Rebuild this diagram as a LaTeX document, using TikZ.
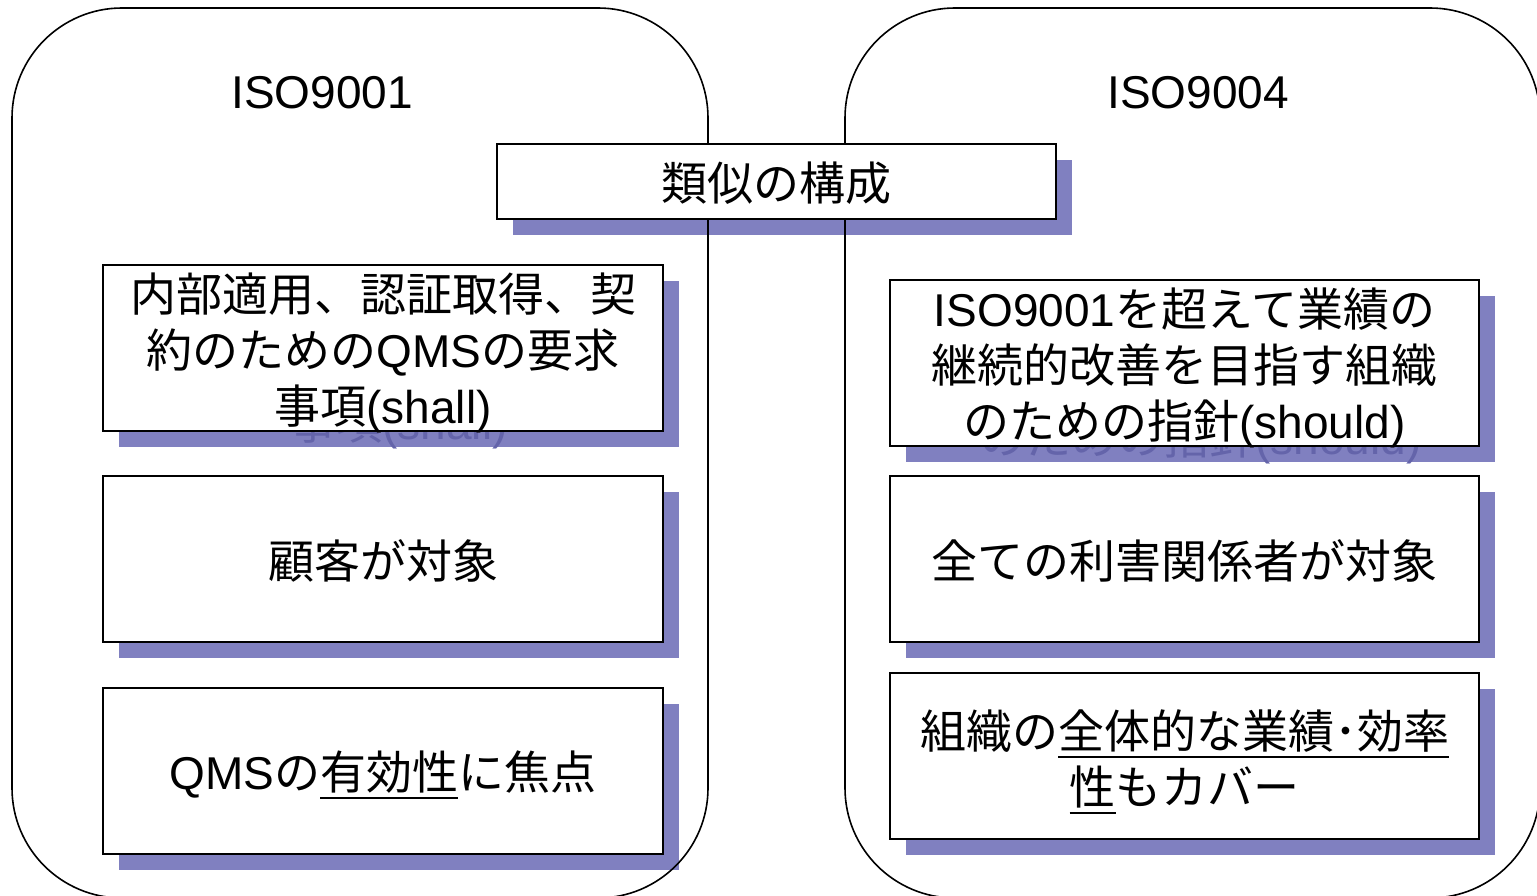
\documentclass[tikz,border=0pt]{standalone}
\usepackage{fontspec}
\setmainfont{Liberation Sans}
\newfontfamily\jpfont{Noto Sans CJK JP}
\newcommand\jx[1]{{\jpfont #1}}
\newcommand\undl[1]{\setbox0=\hbox{#1}\rlap{\rule[-9pt]{\wd0}{2pt}}\box0}
\definecolor{shadowc}{HTML}{8080C0}
\definecolor{ghostc}{HTML}{6464AA}
\begin{document}
\begin{tikzpicture}[x=1pt,y=-1pt,
  txt/.style={font=\fontsize{46}{56}\selectfont, align=center, inner sep=0pt},
  shadowbox/.style={fill=shadowc, draw=none, inner sep=0pt},
  ghost/.style={txt, text=ghostc},
  mainbox/.style={fill=white, draw=black, line width=1.6pt, inner sep=0pt},
  lbox/.style={minimum width=560pt, minimum height=166pt},
  rbox/.style={minimum width=589pt, minimum height=166pt},
  hbox/.style={minimum width=559pt, minimum height=75pt},
  bigframe/.style={draw=black, line width=1.6pt, rounded corners=110pt},
  title/.style={font=\fontsize{46}{56}\selectfont, inner sep=0pt}
]
\useasboundingbox (0,0) rectangle (1537,896);

% shadows
\node[shadowbox, hbox] (hs) at (792.5,197.5) {};
\node[shadowbox, lbox] (l1s) at (399,364) {};
\node[shadowbox, lbox] (l2s) at (399,575) {};
\node[shadowbox, lbox] (l3s) at (399,787) {};
\node[shadowbox, rbox] (r1s) at (1200.5,379) {};
\node[shadowbox, rbox] (r2s) at (1200.5,575) {};
\node[shadowbox, rbox] (r3s) at (1200.5,772) {};
% text echoes on the shadows
\node[ghost] (l1g) at ([yshift=-5pt]l1s.center) {\phantom{\jx{内部適用、認証取得、契}}\\\phantom{\jx{約のための}QMS\jx{の要求}}\\\jx{事項}(shall)};
\node[ghost] (r1g) at ([yshift=-5pt]r1s.center) {\phantom{ISO9001\jx{を超えて業績の}}\\\phantom{\jx{継続的改善を目指す組織}}\\\jx{のための指針}(should)};

% big frames
\draw[bigframe] (12,8) rectangle (708,898);
\draw[bigframe] (845,8) rectangle (1540,898);

\node[title] (t1) at (322,93) {ISO9001};
\node[title] (t2) at (1198,93) {ISO9004};

% main boxes
\node[mainbox, hbox] (h) at (776.5,181.5) {};
\node[mainbox, lbox] (l1) at (383,348) {};
\node[mainbox, lbox] (l2) at (383,559) {};
\node[mainbox, lbox] (l3) at (383,771) {};
\node[mainbox, rbox] (r1) at (1184.5,363) {};
\node[mainbox, rbox] (r2) at (1184.5,559) {};
\node[mainbox, rbox] (r3) at (1184.5,756) {};

% texts
\node[txt] (ht) at ([yshift=-2pt]h.center) {\jx{類似の構成}};
\node[txt] (l1t) at ([yshift=-5pt]l1.center) {\jx{内部適用、認証取得、契}\\\jx{約のための}QMS\jx{の要求}\\\jx{事項}(shall)};
\node[txt] (l2t) at ([yshift=-2pt]l2.center) {\jx{顧客が対象}};
\node[txt] (l3t) at ([yshift=-4pt]l3.center) {QMS\jx{の}\undl{\jx{有効性}}\jx{に焦点}};
\node[txt] (r1t) at ([yshift=-5pt]r1.center) {ISO9001\jx{を超えて業績の}\\\jx{継続的改善を目指す組織}\\\jx{のための指針}(should)};
\node[txt] (r2t) at ([yshift=-2pt]r2.center) {\jx{全ての利害関係者が対象}};
\node[txt] (r3t) at ([yshift=-6pt]r3.center) {\jx{組織の}\undl{\jx{全体的な業績･効率}}\\\undl{\jx{性}}\jx{もカバー}};
\end{tikzpicture}
\end{document}
